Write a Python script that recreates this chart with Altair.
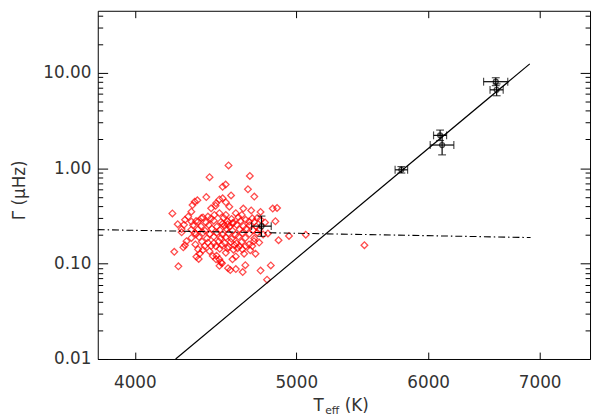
import altair as alt
import pandas as pd

# ---------------- data ----------------
x_ticks = [4000, 5000, 6000, 7000]
y_major = [0.01, 0.1, 1, 10]
y_minor = [0.02, 0.03, 0.04, 0.05, 0.06, 0.07, 0.08, 0.09,
           0.2, 0.3, 0.4, 0.5, 0.6, 0.7, 0.8, 0.9,
           2, 3, 4, 5, 6, 7, 8, 9, 20, 30, 40]

# red diamonds (Teff [K], Gamma [muHz]) - sparse outer points
red_outer = [
    (4553, 1.07), (4435, 0.806), (4689, 0.83), (4516, 0.639), (4535, 0.674),
    (4677, 0.602), (4569, 0.518), (4415, 0.498), (4718, 0.504), (4345, 0.445),
    (4361, 0.461), (4332, 0.411), (4213, 0.336), (4840, 0.378), (4869, 0.383),
    (4858, 0.278), (4759, 0.348), (4698, 0.361), (4647, 0.378), (4244, 0.259),
    (4267, 0.23), (4281, 0.255), (4224, 0.133), (4248, 0.0936), (4277, 0.148),
    (4287, 0.156), (4355, 0.118), (4369, 0.112), (4808, 0.207), (4950, 0.195),
    (5066, 0.201), (4879, 0.176), (5494, 0.156), (4827, 0.0958), (4759, 0.0845),
    (4802, 0.0679), (4643, 0.0816), (4660, 0.0963), (4550, 0.0896), (4564, 0.0855),
    (4599, 0.119), (4726, 0.127), (4506, 0.103), (4475, 0.429), (4496, 0.471),
    (4516, 0.483), (4536, 0.439), (4558, 0.395), (4472, 0.404), (4599, 0.338),
    (4637, 0.324), (4496, 0.338), (4536, 0.324), (4737, 0.300), (4759, 0.288),
    (4662, 0.288), (4684, 0.276), (4325, 0.350), (4445, 0.380), (4306, 0.311),
    (4287, 0.288), (4385, 0.300), (4425, 0.311), (4465, 0.324), (4325, 0.276),
    (4365, 0.276), (4267, 0.213), (4296, 0.172), (4349, 0.159), (4365, 0.141),
    (4375, 0.127), (4405, 0.153), (4425, 0.166), (4445, 0.153), (4325, 0.186),
    (4325, 0.227), (4345, 0.210), (4435, 0.135), (4455, 0.120), (4475, 0.111),
    (4652, 0.127), (4599, 0.0876), (4641, 0.141), (4662, 0.153), (4705, 0.153),
    (4684, 0.159), (4716, 0.172), (4478, 0.121), (4496, 0.111), (4536, 0.130),
    (4547, 0.144), (4578, 0.111), (4512, 0.101), (4496, 0.0947),
]

# red diamonds - dense core of the cloud
red_core = [
    (4395, 0.305), (4443, 0.296), (4522, 0.303), (4572, 0.294), (4616, 0.307), (4705, 0.298),
    (4353, 0.279), (4413, 0.270), (4461, 0.282), (4504, 0.272), (4547, 0.278), (4584, 0.268),
    (4629, 0.280), (4718, 0.274), (4789, 0.270),
    (4516, 0.262), (4547, 0.258), (4578, 0.265),
    (4335, 0.252), (4383, 0.246), (4431, 0.254), (4480, 0.244), (4528, 0.250), (4559, 0.243),
    (4604, 0.255), (4648, 0.247), (4686, 0.251), (4731, 0.245),
    (4365, 0.229), (4407, 0.222), (4449, 0.232), (4498, 0.225), (4541, 0.230), (4578, 0.221),
    (4623, 0.228), (4667, 0.233), (4711, 0.224), (4750, 0.229),
    (4353, 0.203), (4395, 0.210), (4437, 0.204), (4480, 0.211), (4516, 0.202), (4553, 0.208),
    (4597, 0.200), (4641, 0.209), (4686, 0.205), (4737, 0.211), (4776, 0.202),
    (4371, 0.190), (4419, 0.184), (4461, 0.191), (4504, 0.185), (4535, 0.189), (4572, 0.182),
    (4616, 0.192), (4660, 0.186), (4718, 0.183),
    (4389, 0.170), (4461, 0.164), (4492, 0.171), (4528, 0.165), (4566, 0.169), (4604, 0.163),
    (4635, 0.168), (4750, 0.166),
    (4474, 0.152), (4510, 0.157), (4553, 0.150), (4591, 0.156), (4623, 0.153),
    (4395, 0.139), (4498, 0.143), (4584, 0.140), (4610, 0.145), (4692, 0.138),
]

# black points with error bars
blk_teff = [5782, 6100, 6117, 6588, 6596, 4765]
blk_gamma = [0.962, 2.21, 1.75, 8.07, 6.63, 0.247]
blk_teff_err = [50, 55, 100, 110, 60, 65]
blk_gamma_lo = [0.89, 1.95, 1.38, 7.34, 5.75, 0.193]
blk_gamma_hi = [1.04, 2.51, 2.22, 8.88, 7.65, 0.315]

# fitted relations
fit_teff = [4232, 6905]
fit_gamma = [0.01, 12.4]
flat_teff = [3800, 6913]
flat_gamma = [0.227, 0.1875]

# ---------------- chart ----------------
FONT = "DejaVu Sans"
TXT = "#333333"
W, H = 499, 353

xs = alt.Scale(type="log", domain=[3800, 7505], nice=False)
ys = alt.Scale(type="log", domain=[0.01, 44.7], nice=False)

red_df = pd.DataFrame(red_outer + red_core, columns=["teff", "gamma"])
blk_df = pd.DataFrame({
    "teff": blk_teff,
    "gamma": blk_gamma,
    "tlo": [t - e for t, e in zip(blk_teff, blk_teff_err)],
    "thi": [t + e for t, e in zip(blk_teff, blk_teff_err)],
    "glo": blk_gamma_lo,
    "ghi": blk_gamma_hi,
})
fit_df = pd.DataFrame({"teff": fit_teff, "gamma": fit_gamma})
flat_df = pd.DataFrame({"teff": flat_teff, "gamma": flat_gamma})


def ax(orient, values, size, labels=False, **kw):
    return alt.Axis(orient=orient, values=values, tickSize=size, offset=-size,
                    domain=False, grid=False, labels=labels, title=None,
                    ticks=True, tickColor="black", tickWidth=1,
                    labelFont=FONT, labelFontSize=17, labelColor=TXT,
                    labelFlush=False, labelOverlap=False, **kw)


red = alt.Chart(red_df).mark_point(
    shape="diamond", filled=False, color="#ff0000", size=46, strokeWidth=1.3
).encode(
    x=alt.X("teff:Q", scale=xs,
            axis=ax("bottom", x_ticks, 7, labels=True, format="d", labelPadding=16)),
    y=alt.Y("gamma:Q", scale=ys,
            axis=ax("left", y_major, 10, labels=True, format=".2f", labelPadding=7)),
)

blk_pts = alt.Chart(blk_df).mark_point(
    shape="circle", filled=False, color="black", size=24, strokeWidth=1.4
).encode(
    x=alt.X("teff:Q", scale=xs, axis=ax("top", x_ticks, 7)),
    y=alt.Y("gamma:Q", scale=ys, axis=ax("left", y_minor, 5)),
)

blk_h = alt.Chart(blk_df).mark_errorbar(
    ticks={"size": 8}, color="black", thickness=1.2
).encode(
    x=alt.X("tlo:Q", scale=xs, axis=None),
    x2="thi:Q",
    y=alt.Y("gamma:Q", scale=ys, axis=None),
)

blk_v = alt.Chart(blk_df).mark_errorbar(
    ticks={"size": 8}, color="black", thickness=1.2
).encode(
    x=alt.X("teff:Q", scale=xs, axis=None),
    y=alt.Y("glo:Q", scale=ys, axis=None),
    y2="ghi:Q",
)

fit = alt.Chart(fit_df).mark_line(color="black", strokeWidth=1.2).encode(
    x=alt.X("teff:Q", scale=xs, axis=None),
    y=alt.Y("gamma:Q", scale=ys, axis=ax("right", y_major, 10)),
)

flat = alt.Chart(flat_df).mark_line(
    color="black", strokeWidth=1.1, strokeDash=[7, 3, 1.5, 3]
).encode(
    x=alt.X("teff:Q", scale=xs, axis=None),
    y=alt.Y("gamma:Q", scale=ys, axis=ax("right", y_minor, 5)),
)


def label(txt, x, y, size, angle=0, align="left"):
    return alt.Chart(pd.DataFrame({"t": [txt]})).mark_text(
        align=align, baseline="alphabetic", font=FONT, fontSize=size,
        color=TXT, angle=angle
    ).encode(text="t:N", x=alt.value(x), y=alt.value(y))


t_T = label("T", 218.7, 405.3, 17)
t_eff = label("eff", 230.5, 409.0, 11)
t_K = label("(K)", 250.3, 405.3, 17)
t_y = label("Γ  (μHz)", -74.0, 182.0, 17, angle=270, align="center")

chart = alt.layer(
    red, blk_h, blk_v, blk_pts, fit, flat, t_T, t_eff, t_K, t_y
).resolve_axis(
    x="independent", y="independent"
).properties(
    width=W, height=H,
    padding={"left": 91, "top": 0, "right": 2, "bottom": 58},
    autosize=alt.AutoSizeParams(type="none"),
).configure_view(stroke="black", strokeWidth=1)

chart.save("out.html", embed_options={"renderer": "svg", "actions": False})
